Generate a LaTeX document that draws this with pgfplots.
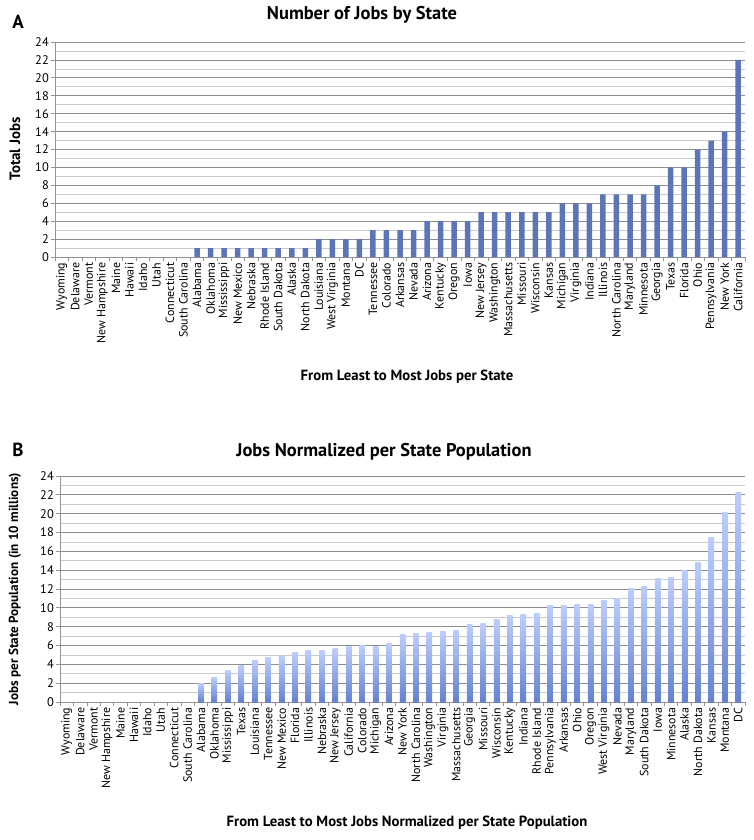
\documentclass[border=0pt]{standalone}
\usepackage{fontspec}
\setmainfont{PT Sans}
\usepackage{pgfplots}
\pgfplotsset{compat=1.18}
\definecolor{barA}{HTML}{5B75B7}
\definecolor{bTop}{HTML}{BCCDFC}
\definecolor{bBot}{HTML}{6482D2}
\definecolor{gridmaj}{HTML}{8E8E8E}
\definecolor{gridmin}{HTML}{CACACA}
\pgfplotsset{
 statebase/.style={
  scale only axis,
  xmin=-0.5, xmax=50.5,
  ymin=0, ymax=24,
  ytick={0,2,...,24},
  minor ytick={1,3,...,23},
  xtick={0,...,50},
  minor xtick={-0.5,0.5,...,50.5},
  ymajorgrids, yminorgrids,
  major grid style={gridmaj, line width=0.7pt},
  minor grid style={gridmin, line width=0.7pt},
  axis x line*=bottom, axis y line*=left,
  axis line style={gray!85, line width=0.7pt},
  tick align=outside,
  major tick length=4bp, minor tick length=4bp,
  major x tick style={draw=none},
  minor y tick style={draw=none},
  major y tick style={gray!85, line width=0.7pt},
  minor x tick style={gray!85, line width=0.7pt},
  x tick label style={rotate=90, anchor=east, font=\fontsize{12}{12}\selectfont, inner sep=1.5pt},
  y tick label style={font=\fontsize{12.5}{12}\selectfont, inner sep=2pt},
  /pgf/number format/assume math mode=true,
  clip=false,
  ybar, bar width=5.5bp,
 },
 bB/.style={draw=none, top color=bTop, bottom color=bBot, bar shift=0pt},
}
\begin{document}
\begin{tikzpicture}
\useasboundingbox (0,0) rectangle (754bp,-840bp);
% ---------------- Panel A ----------------
\begin{axis}[statebase, at={(55bp,-42bp)}, anchor=north west, width=690bp, height=215bp,
 xticklabels={Wyoming,Delaware,Vermont,New Hampshire,Maine,Hawaii,Idaho,Utah,Connecticut,South Carolina,Alabama,Oklahoma,Mississippi,New Mexico,Nebraska,Rhode Island,South Dakota,Alaska,North Dakota,Louisiana,West Virginia,Montana,DC,Tennessee,Colorado,Arkansas,Nevada,Arizona,Kentucky,Oregon,Iowa,New Jersey,Washington,Massachusetts,Missouri,Wisconsin,Kansas,Michigan,Virginia,Indiana,Illinois,North Carolina,Maryland,Minnesota,Georgia,Texas,Florida,Ohio,Pennsylvania,New York,California}]
\addplot[fill=barA, draw=none] coordinates {
(0,0) (1,0) (2,0) (3,0) (4,0) (5,0) (6,0) (7,0) (8,0) (9,0)
(10,1) (11,1) (12,1) (13,1) (14,1) (15,1) (16,1) (17,1) (18,1)
(19,2) (20,2) (21,2) (22,2)
(23,3) (24,3) (25,3) (26,3)
(27,4) (28,4) (29,4) (30,4)
(31,5) (32,5) (33,5) (34,5) (35,5) (36,5)
(37,6) (38,6) (39,6)
(40,7) (41,7) (42,7) (43,7)
(44,8) (45,10) (46,10) (47,12) (48,13) (49,14) (50,22)};
\end{axis}
% ---------------- Panel B ----------------
% zero values (x = 0..9: Wyoming ... South Carolina) draw no bar
\begin{axis}[statebase, at={(60bp,-476bp)}, anchor=north west, width=685bp, height=226bp,
 xticklabels={Wyoming,Delaware,Vermont,New Hampshire,Maine,Hawaii,Idaho,Utah,Connecticut,South Carolina,Alabama,Oklahoma,Mississippi,Texas,Louisiana,Tennessee,New Mexico,Florida,Illinois,Nebraska,New Jersey,California,Colorado,Michigan,Arizona,New York,North Carolina,Washington,Virginia,Massachusetts,Georgia,Missouri,Wisconsin,Kentucky,Indiana,Rhode Island,Pennsylvania,Arkansas,Ohio,Oregon,West Virginia,Nevada,Maryland,South Dakota,Iowa,Minnesota,Alaska,North Dakota,Kansas,Montana,DC}]
\addplot[bB] coordinates {(10,2.0)};
\addplot[bB] coordinates {(11,2.6)};
\addplot[bB] coordinates {(12,3.35)};
\addplot[bB] coordinates {(13,3.9)};
\addplot[bB] coordinates {(14,4.4)};
\addplot[bB] coordinates {(15,4.7)};
\addplot[bB] coordinates {(16,4.85)};
\addplot[bB] coordinates {(17,5.3)};
\addplot[bB] coordinates {(18,5.45)};
\addplot[bB] coordinates {(19,5.45)};
\addplot[bB] coordinates {(20,5.65)};
\addplot[bB] coordinates {(21,5.9)};
\addplot[bB] coordinates {(22,5.95)};
\addplot[bB] coordinates {(23,5.9)};
\addplot[bB] coordinates {(24,6.2)};
\addplot[bB] coordinates {(25,7.15)};
\addplot[bB] coordinates {(26,7.25)};
\addplot[bB] coordinates {(27,7.4)};
\addplot[bB] coordinates {(28,7.45)};
\addplot[bB] coordinates {(29,7.55)};
\addplot[bB] coordinates {(30,8.2)};
\addplot[bB] coordinates {(31,8.3)};
\addplot[bB] coordinates {(32,8.75)};
\addplot[bB] coordinates {(33,9.15)};
\addplot[bB] coordinates {(34,9.25)};
\addplot[bB] coordinates {(35,9.45)};
\addplot[bB] coordinates {(36,10.2)};
\addplot[bB] coordinates {(37,10.25)};
\addplot[bB] coordinates {(38,10.4)};
\addplot[bB] coordinates {(39,10.4)};
\addplot[bB] coordinates {(40,10.75)};
\addplot[bB] coordinates {(41,11.0)};
\addplot[bB] coordinates {(42,12.1)};
\addplot[bB] coordinates {(43,12.3)};
\addplot[bB] coordinates {(44,13.1)};
\addplot[bB] coordinates {(45,13.2)};
\addplot[bB] coordinates {(46,14.0)};
\addplot[bB] coordinates {(47,14.8)};
\addplot[bB] coordinates {(48,17.5)};
\addplot[bB] coordinates {(49,20.15)};
\addplot[bB] coordinates {(50,22.25)};
\end{axis}
% ---------------- Texts ----------------
\node[font=\bfseries\fontsize{19}{19}\selectfont] at (18bp,-22bp) {A};
\node[font=\bfseries\fontsize{18.5}{18.5}\selectfont] at (362bp,-15bp) {Number of Jobs by State};
\node[font=\bfseries\fontsize{15}{15}\selectfont, rotate=90] at (15bp,-149bp) {Total Jobs};
\node[font=\bfseries\fontsize{14.8}{14.8}\selectfont] at (407bp,-377bp) {From Least to Most Jobs per State};
\node[font=\bfseries\fontsize{19}{19}\selectfont] at (18bp,-450bp) {B};
\node[font=\bfseries\fontsize{18.5}{18.5}\selectfont] at (384bp,-452bp) {Jobs Normalized per State Population};
\node[font=\bfseries\fontsize{13.2}{13.2}\selectfont, rotate=90] at (15bp,-589bp) {Jobs per State Population (in 10 millions)};
\node[font=\bfseries\fontsize{14.8}{14.8}\selectfont] at (407bp,-823bp) {From Least to Most Jobs Normalized per State Population};
\end{tikzpicture}
\end{document}
